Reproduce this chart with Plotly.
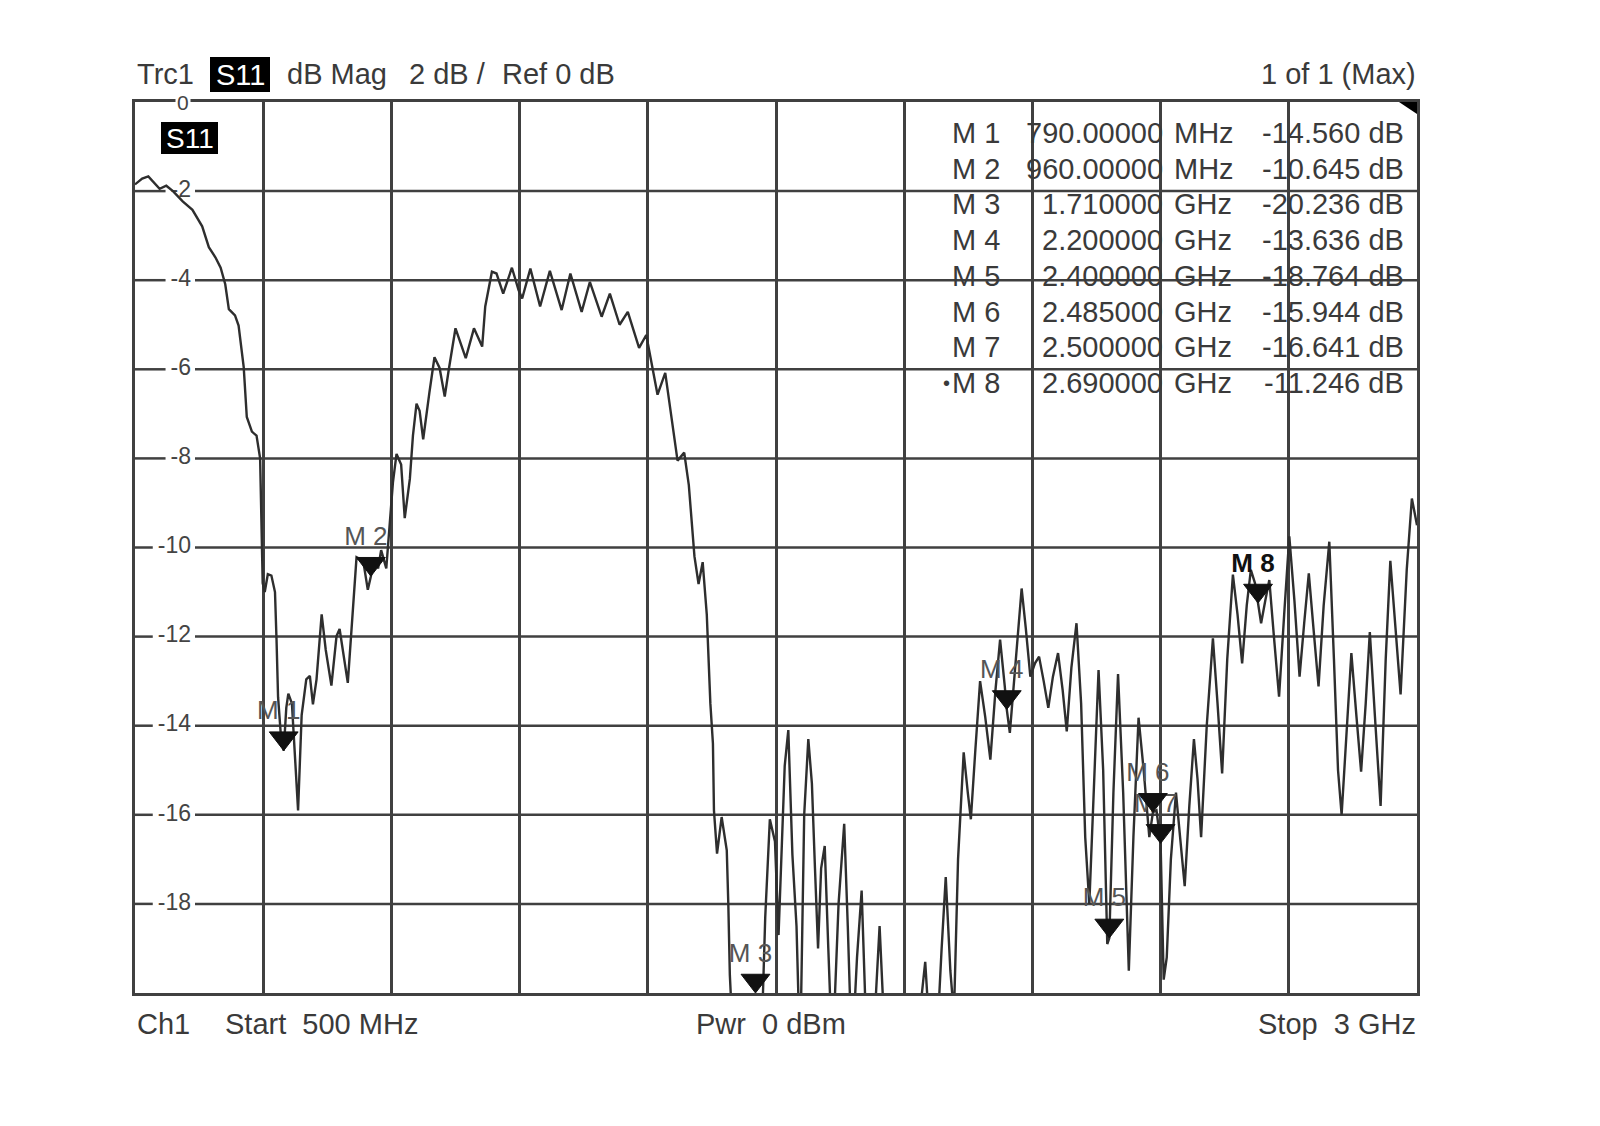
import plotly.graph_objects as go
import numpy as np

# ---------------- data ----------------
freq_mhz = [
    500, 514, 526, 538, 548, 561, 574, 593, 612, 631, 644, 657, 667, 676, 683, 695, 702, 712, 718, 728,
    737, 744, 747, 749, 753, 759, 766, 773, 776, 779, 785, 790, 795, 799, 806, 812, 818, 825, 834, 841,
    847, 854, 864, 872, 883, 893, 899, 915, 922, 932, 945, 954, 960, 967, 974, 980, 990, 997, 1003, 1010,
    1019, 1026, 1036, 1042, 1049, 1055, 1062, 1074, 1084, 1094, 1104, 1112, 1125, 1145, 1161, 1177, 1183, 1196, 1205, 1218,
    1235, 1248, 1255, 1271, 1290, 1309, 1332, 1349, 1371, 1387, 1410, 1426, 1445, 1461, 1483, 1497, 1519, 1534, 1558, 1571,
    1580, 1591, 1599, 1607, 1615, 1622, 1627, 1629, 1635, 1644, 1654, 1657, 1660, 1668, 1690, 1710, 1722, 1729, 1738, 1748,
    1755, 1767, 1774, 1782, 1790, 1797, 1805, 1813, 1820, 1826, 1832, 1838, 1845, 1852, 1860, 1872, 1883, 1890, 1898, 1908,
    1917, 1925, 1935, 1945, 1952, 1960, 1990, 2030, 2041, 2050, 2062, 2073, 2081, 2090, 2097, 2105, 2116, 2124, 2130, 2139,
    2148, 2158, 2168, 2178, 2187, 2196, 2200, 2206, 2218, 2229, 2237, 2246, 2255, 2263, 2272, 2281, 2290, 2300, 2309, 2317,
    2326, 2336, 2345, 2353, 2361, 2370, 2379, 2388, 2396, 2400, 2408, 2417, 2427, 2438, 2447, 2457, 2467, 2478, 2485, 2492,
    2500, 2506, 2512, 2520, 2530, 2538, 2547, 2556, 2565, 2572, 2579, 2590, 2602, 2611, 2620, 2630, 2641, 2650, 2659, 2668,
    2676, 2684, 2690, 2696, 2704, 2712, 2721, 2731, 2741, 2751, 2761, 2771, 2780, 2789, 2798, 2808, 2818, 2829, 2838, 2846,
    2853, 2863, 2872, 2882, 2891, 2900, 2908, 2918, 2929, 2939, 2948, 2958, 2968, 2980, 2990, 3000,
]
s11_db = [
    -1.85, -1.72, -1.67, -1.81, -1.95, -1.88, -2.00, -2.23, -2.42, -2.79, -3.26, -3.49, -3.72, -4.09, -4.65, -4.79, -5.02, -5.95, -7.07, -7.40,
    -7.49, -8.00, -9.67, -10.8, -11.0, -10.6, -10.63, -11.0, -12.07, -13.36, -14.3, -14.56, -13.6, -13.28, -13.5, -14.6, -15.9, -13.76, -12.96, -12.88,
    -13.52, -12.96, -11.5, -12.3, -13.1, -11.99, -11.83, -13.04, -11.83, -10.22, -10.3, -10.95, -10.645, -10.22, -10.47, -10.06, -10.47, -9.34, -8.54, -7.90,
    -8.14, -9.34, -8.46, -7.49, -6.77, -6.93, -7.57, -6.53, -5.73, -5.97, -6.61, -6.00, -5.08, -5.75, -5.08, -5.49, -4.59, -3.81, -3.85, -4.30,
    -3.72, -4.22, -4.41, -3.74, -4.59, -3.79, -4.67, -3.85, -4.71, -4.04, -4.82, -4.30, -5.00, -4.71, -5.52, -5.23, -6.57, -6.08, -8.05, -7.87,
    -8.6, -10.2, -10.82, -10.33, -11.5, -13.5, -14.4, -15.9, -16.87, -16.05, -16.8, -18.0, -19.6, -21.5, -22.5, -20.236, -21.0, -18.3, -16.1, -16.6,
    -18.7, -14.9, -14.1, -16.9, -18.5, -21.5, -16.0, -14.3, -15.3, -17.2, -19.0, -17.2, -16.7, -19.0, -21.5, -18.0, -16.2, -18.5, -21.5, -19.2,
    -17.7, -20.5, -22.0, -20.0, -18.5, -20.5, -23.0, -20.5, -19.3, -21.0, -21.5, -19.0, -17.4, -19.5, -20.5, -17.0, -14.6, -15.5, -16.1, -14.5,
    -13.0, -13.8, -14.76, -13.2, -12.07, -13.1, -13.636, -14.16, -12.5, -10.92, -11.8, -12.9, -12.6, -12.45, -13.0, -13.6, -12.9, -12.37, -13.2, -14.13,
    -12.7, -11.7, -13.5, -16.5, -18.0, -15.5, -12.75, -15.0, -18.9, -18.764, -15.5, -12.84, -15.5, -19.5, -16.5, -13.82, -15.0, -16.5, -15.944, -15.9,
    -16.641, -19.7, -19.2, -17.0, -15.5, -16.5, -17.6, -15.8, -14.3, -15.2, -16.5, -14.0, -12.04, -13.5, -15.07, -12.5, -10.61, -11.5, -12.6, -11.3,
    -10.5, -10.8, -11.246, -11.7, -11.2, -10.73, -12.0, -13.35, -11.5, -9.75, -11.2, -12.9, -11.7, -10.58, -11.8, -13.12, -11.3, -9.87, -12.5, -15.0,
    -16.0, -14.0, -12.37, -13.8, -15.03, -13.5, -11.9, -13.8, -15.8, -12.5, -10.3, -11.8, -13.3, -10.5, -8.9, -9.5,
]

marker_names = ["M 1", "M 2", "M 3", "M 4", "M 5", "M 6", "M 7", "M 8"]
marker_freq_mhz = [790, 960, 1710, 2200, 2400, 2485, 2500, 2690]
marker_db = [-14.560, -10.645, -20.236, -13.636, -18.764, -15.944, -16.641, -11.246]
marker_freq_text = ["790.00000", "960.00000", "1.710000", "2.200000", "2.400000", "2.485000", "2.500000", "2.690000"]
marker_unit = ["MHz", "MHz", "GHz", "GHz", "GHz", "GHz", "GHz", "GHz"]
marker_value_text = ["-14.560 dB", "-10.645 dB", "-20.236 dB", "-13.636 dB", "-18.764 dB", "-15.944 dB", "-16.641 dB", "-11.246 dB"]
active_marker = "M 8"

y_tick_values = [0, -2, -4, -6, -8, -10, -12, -14, -16, -18]
y_tick_labels = ["0", "-2", "-4", "-6", "-8", "-10", "-12", "-14", "-16", "-18"]

x_start, x_stop, x_step = 500, 3000, 250
y_top, y_bottom, y_step = 0, -20, 2

header_parts = ["Trc1", "S11", "dB Mag", "2 dB /", "Ref 0 dB"]
header_right = "1 of 1 (Max)"
footer_parts = ["Ch1", "Start\u00a0\u00a0500 MHz", "Pwr\u00a0\u00a00 dBm", "Stop\u00a0\u00a03 GHz"]

# ---------------- layout geometry (page pixels) ----------------
PAGE_OFF = 8                      # default body margin of the html page
W, H = 1600 - 2 * PAGE_OFF, 1126 - 2 * PAGE_OFF
PL, PR, PT, PB = 135, 1417, 102, 993  # plot area edges on the page
ML, MR, MT, MB = PL - PAGE_OFF, W - (PR - PAGE_OFF), PT - PAGE_OFF, H - (PB - PAGE_OFF)
PW, PH = W - ML - MR, H - MT - MB
FONT = "Liberation Sans, Arial, sans-serif"
TXT = "#3a3a3a"
GRID = "#404040"
GRID_W = 2.5
FS = 29
TICK_FS = 23


def px(x):
    return (x - PAGE_OFF - ML) / PW


def py(y):
    return (H - MB - (y - PAGE_OFF)) / PH


db_per_px = (y_top - y_bottom) / PH
mhz_per_px = (x_stop - x_start) / PW


def page_x_to_mhz(x):
    return x_start + (x - PL) * mhz_per_px


fig = go.Figure()
ann = []

# horizontal grid lines, broken where the level labels sit
tick_right = 191
char_w = {"-": 0.333}
gx, gy, lab_v, lab_t = [], [], [], []
for v, t in zip(y_tick_values, y_tick_labels):
    if v == y_top:
        ann.append(dict(x=px(tick_right), xref="paper", y=v, yref="y", text=t, showarrow=False,
                        xanchor="right", yanchor="middle", bgcolor="white", borderpad=1,
                        font=dict(family=FONT, size=TICK_FS - 2, color="#444444")))
        continue
    w = sum(char_w.get(c, 0.556) for c in t) * TICK_FS
    gx += [x_start, page_x_to_mhz(tick_right - w - 5), None, page_x_to_mhz(tick_right + 4), x_stop, None]
    gy += [v, v, None, v, v, None]
    lab_v.append(v)
    lab_t.append(t)

fig.add_trace(go.Scatter(
    x=gx, y=gy, mode="lines", line=dict(color=GRID, width=GRID_W),
    hoverinfo="skip", showlegend=False, connectgaps=False,
))
fig.add_trace(go.Scatter(
    x=[page_x_to_mhz(tick_right)] * len(lab_v), y=lab_v,
    mode="text", text=lab_t, textposition="middle left",
    textfont=dict(family=FONT, size=TICK_FS, color="#444444"),
    hoverinfo="skip", showlegend=False,
))

# trace
fig.add_trace(go.Scatter(
    x=freq_mhz, y=s11_db, mode="lines",
    line=dict(color="#2e2e2e", width=2.4),
    hoverinfo="skip", showlegend=False,
))

# marker labels (drawn below triangles)
tri_size = 25
disp_db = np.maximum(np.array(marker_db), y_bottom)
label_text = [("<b>%s</b>" % n) if n == active_marker else n for n in marker_names]
label_col = ["#111111" if n == active_marker else "#555555" for n in marker_names]
fig.add_trace(go.Scatter(
    x=np.array(marker_freq_mhz) - 5 * mhz_per_px,
    y=disp_db + 38 * db_per_px,
    mode="text", text=label_text,
    textfont=dict(family=FONT, size=26, color=label_col),
    cliponaxis=False, hoverinfo="skip", showlegend=False,
))
# marker triangles, tip on the trace value
fig.add_trace(go.Scatter(
    x=marker_freq_mhz, y=disp_db + (tri_size / 2) * db_per_px,
    mode="markers",
    marker=dict(symbol="triangle-down", size=tri_size, color="#111111", line=dict(width=1, color="#111111")),
    cliponaxis=False, hoverinfo="skip", showlegend=False,
))

# header
head_x = [135, None, 285, 407, 500]
for hx, t in zip(head_x, header_parts):
    if hx is None:
        continue
    ann.append(dict(x=px(hx), xref="paper", y=py(74), yref="paper", text=t, showarrow=False,
                    xanchor="left", yanchor="middle", font=dict(family=FONT, size=FS, color=TXT)))
ann.append(dict(x=px(1418), xref="paper", y=py(74), yref="paper", text=header_right, showarrow=False,
                xanchor="right", yanchor="middle", font=dict(family=FONT, size=FS, color=TXT)))
# S11 boxes text
ann.append(dict(x=px(240), xref="paper", y=py(75), yref="paper", text=header_parts[1], showarrow=False,
                xanchor="center", yanchor="middle", font=dict(family=FONT, size=FS, color="white")))
ann.append(dict(x=px(189.5), xref="paper", y=py(138), yref="paper", text=header_parts[1], showarrow=False,
                xanchor="center", yanchor="middle", font=dict(family=FONT, size=28, color="white")))

# marker table
for i, (n, ft, u, vt) in enumerate(zip(marker_names, marker_freq_text, marker_unit, marker_value_text)):
    yc = 133 + i * 35.7
    f = dict(family=FONT, size=FS, color=TXT)
    ann.append(dict(x=px(950), xref="paper", y=py(yc), yref="paper", text=n, showarrow=False,
                    xanchor="left", yanchor="middle", font=f))
    if n == active_marker:
        ann.append(dict(x=px(952), xref="paper", y=py(yc), yref="paper", text="\u2022", showarrow=False,
                        xanchor="right", yanchor="middle", font=dict(family=FONT, size=20, color=TXT)))
    ann.append(dict(x=px(1165), xref="paper", y=py(yc), yref="paper", text=ft, showarrow=False,
                    xanchor="right", yanchor="middle", font=f))
    ann.append(dict(x=px(1172), xref="paper", y=py(yc), yref="paper", text=u, showarrow=False,
                    xanchor="left", yanchor="middle", font=f))
    ann.append(dict(x=px(1406), xref="paper", y=py(yc), yref="paper", text=vt, showarrow=False,
                    xanchor="right", yanchor="middle", font=f))

# footer
foot_pos = [(135, "left"), (223, "left"), (694, "left"), (1418, "right")]
for (fx, anc), t in zip(foot_pos, footer_parts):
    ann.append(dict(x=px(fx), xref="paper", y=py(1024), yref="paper", text=t, showarrow=False,
                    xanchor=anc, yanchor="middle", font=dict(family=FONT, size=FS, color=TXT)))

shapes = [
    dict(type="rect", xref="paper", yref="paper", x0=px(210), x1=px(270), y0=py(92), y1=py(57),
         fillcolor="black", line=dict(width=0), layer="above"),
    dict(type="rect", xref="paper", yref="paper", x0=px(161), x1=px(218), y0=py(154), y1=py(122),
         fillcolor="black", line=dict(width=0), layer="below"),
    dict(type="path", xref="paper", yref="paper",
         path="M %f,%f L %f,%f L %f,%f Z" % (px(1399), py(102), px(1417), py(102), px(1417), py(114)),
         fillcolor="black", line=dict(width=0)),
]

fig.update_layout(
    width=W, height=H,
    margin=dict(l=ML, r=MR, t=MT, b=MB, pad=0),
    paper_bgcolor="white", plot_bgcolor="white",
    annotations=ann, shapes=shapes, showlegend=False,
    xaxis=dict(range=[x_start, x_stop], tick0=x_start, dtick=x_step, showticklabels=False, ticks="",
               showgrid=True, gridcolor=GRID, gridwidth=GRID_W, zeroline=False,
               showline=True, linecolor=GRID, linewidth=GRID_W, mirror=True),
    yaxis=dict(range=[y_bottom, y_top], tick0=y_bottom, dtick=y_step, showticklabels=False, ticks="",
               showgrid=False, zeroline=False,
               showline=True, linecolor=GRID, linewidth=GRID_W, mirror=True),
)

fig.write_html("out.html")
